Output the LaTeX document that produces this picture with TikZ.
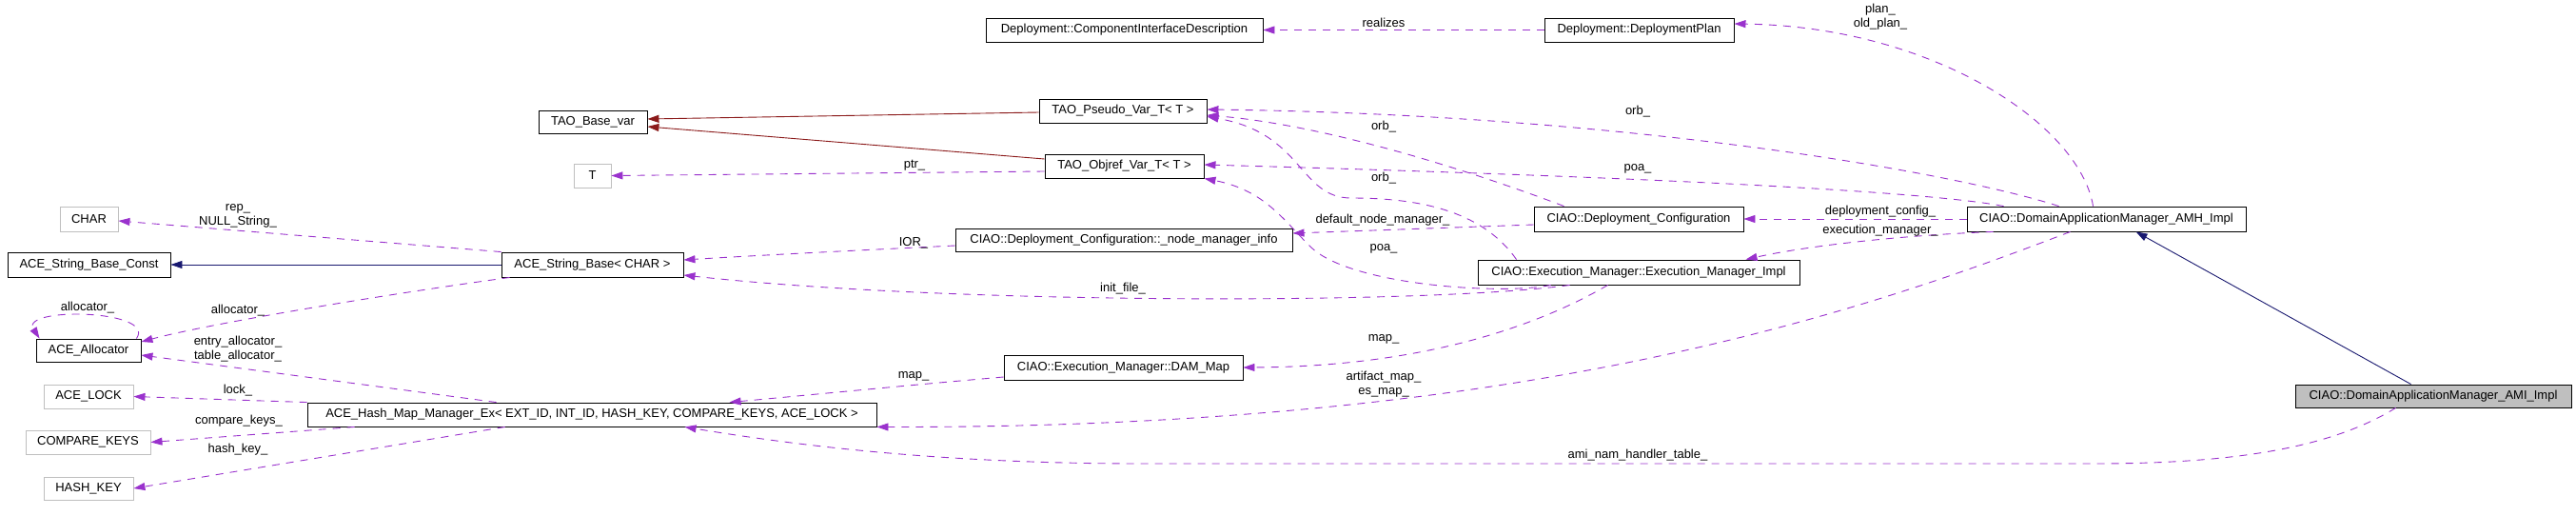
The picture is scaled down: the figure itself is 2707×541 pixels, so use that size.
\documentclass[tikz,border=0pt]{standalone}
\usepackage{fontspec}
\setmainfont{Liberation Sans}
\usetikzlibrary{arrows.meta,calc}
\definecolor{edgepurple}{RGB}{154,50,205}
\definecolor{inhnavy}{RGB}{25,25,112}
\definecolor{tmplred}{RGB}{139,26,26}
\definecolor{greyframe}{RGB}{191,191,191}
\begin{document}
\begin{tikzpicture}[x=1pt,y=-1pt,
  every node/.style={font=\fontsize{13}{15}\selectfont},
  cls/.style={draw=black,line width=0.9pt,inner sep=0pt,minimum height=25pt,anchor=center},
  ext/.style={cls,draw=greyframe},
  focus/.style={cls,fill=greyframe},
  uses/.style={draw=edgepurple,dash pattern=on 8pt off 7pt,line width=0.9pt,-{Triangle[length=12pt,width=8pt]}},
  inherit/.style={draw=inhnavy,line width=0.9pt,-{Triangle[length=12pt,width=8pt]}},
  tmpl/.style={draw=tmplred,line width=0.9pt,-{Triangle[length=12pt,width=8pt]}},
  lbl/.style={inner sep=0pt,align=center}]
\fill[white] (0,0) rectangle (2707,541);
\useasboundingbox (0,0) rectangle (2707,541);

% classes
\node[cls,minimum width=291pt] (cid) at (1181.5,31.5) {Deployment::ComponentInterfaceDescription};
\node[cls,minimum width=199pt] (dp) at (1722.5,31.5) {Deployment::DeploymentPlan};
\node[cls,minimum width=176pt] (pseudo) at (1180,116.5) {TAO\_Pseudo\_Var\_T< T >};
\node[cls,minimum width=114pt,minimum height=24pt] (basevar) at (623,128) {TAO\_Base\_var};
\node[cls,minimum width=167pt] (objref) at (1181.5,174.5) {TAO\_Objref\_Var\_T< T >};
\node[ext,minimum width=39pt] (tnode) at (622.5,184.5) {T};
\node[ext,minimum width=61pt,minimum height=26pt] (charnode) at (93.5,230) {CHAR};
\node[cls,minimum width=171pt,minimum height=26pt] (sbc) at (93.5,278) {ACE\_String\_Base\_Const};
\node[cls,minimum width=191pt,minimum height=26pt] (sb) at (622.5,278) {ACE\_String\_Base< CHAR >};
\node[cls,minimum width=354pt,minimum height=24pt] (nmi) at (1181,252) {CIAO::Deployment\_Configuration::\_node\_manager\_info};
\node[cls,minimum width=220pt,minimum height=26pt] (dc) at (1722,230) {CIAO::Deployment\_Configuration};
\node[cls,minimum width=293pt,minimum height=26pt] (amh) at (2213.5,230) {CIAO::DomainApplicationManager\_AMH\_Impl};
\node[cls,minimum width=338pt,minimum height=26pt] (emi) at (1722,286) {CIAO::Execution\_Manager::Execution\_Manager\_Impl};
\node[cls,minimum width=110pt,minimum height=24pt] (alloc) at (93,368) {ACE\_Allocator};
\node[cls,minimum width=251pt,minimum height=26pt] (dam) at (1180.5,386) {CIAO::Execution\_Manager::DAM\_Map};
\node[ext,minimum width=94pt] (lock) at (93,416.5) {ACE\_LOCK};
\node[cls,minimum width=598pt] (hm) at (622,435.5) {ACE\_Hash\_Map\_Manager\_Ex< EXT\_ID, INT\_ID, HASH\_KEY, COMPARE\_KEYS, ACE\_LOCK >};
\node[ext,minimum width=131pt] (ck) at (92.5,464.5) {COMPARE\_KEYS};
\node[ext,minimum width=94pt,minimum height=24pt] (hk) at (93,513) {HASH\_KEY};
\node[focus,minimum width=290pt,minimum height=24pt] (ami) at (2557,416) {CIAO::DomainApplicationManager\_AMI\_Impl};

% connectors
\draw[uses] (dp.west) -- (cid.east);
\node[lbl] (lrealizes) at (1454,24) {realizes};

\draw[uses] ([xshift=133pt]amh.north west) .. controls (2185,130) and (2030,28) .. ([yshift=6.5pt]dp.east);
\node[lbl] (lplan) at (1976,18) {plan\_\\old\_plan\_};

\draw[uses] ([xshift=97pt]amh.north west) .. controls (2050,180) and (1700,120) .. ([yshift=1.5pt]pseudo.east);
\node[lbl] (lorba) at (1721,117) {orb\_};

\draw[uses] ([xshift=39pt]amh.north west) .. controls (2020,200) and (1700,185) .. ([yshift=1.5pt]objref.east);
\node[lbl] (lpoaa) at (1721,177) {poa\_};

\draw[uses] (amh.west) -- (dc.east);
\node[lbl] (ldepcfg) at (1976,222) {deployment\_config\_};

\draw[uses] ([xshift=28pt]amh.south west) .. controls (2000,247) and (1900,258) .. ([xshift=282pt]emi.north west);
\node[lbl] (lexec) at (1976,242) {execution\_manager\_};

\draw[uses] ([xshift=109pt]amh.south west) .. controls (1950,330) and (1600,450) .. (hm.south east);
\node[lbl] (lart) at (1454,404) {artifact\_map\_\\es\_map\_};

\draw[uses] ([xshift=106pt]ami.south west) .. controls (2450,470) and (2350,487) .. (2200,487) -- (1200,487) .. controls (1000,487) and (850,470) .. ([xshift=397pt]hm.south west);
\node[lbl] (lami) at (1721,478) {ami\_nam\_handler\_table\_};

\draw[inherit] ([xshift=122pt]ami.north west) -- ([xshift=178pt]amh.south west);

\draw[uses] ([xshift=32pt]dc.north west) .. controls (1520,170) and (1380,130) .. ([yshift=-4.5pt]pseudo.east);
\node[lbl] (lorbb) at (1454,133) {orb\_};

\draw[uses] ([yshift=-6pt]dc.west) -- ([yshift=7pt]nmi.east);
\node[lbl] (ldnm) at (1453,231) {default\_node\_manager\_};

\draw[uses] ([xshift=41pt]emi.north west) .. controls (1560,225) and (1500,208) .. (1420,208) .. controls (1365,208) and (1370,140) .. ([yshift=-6pt]pseudo.east);
\node[lbl] (lorbc) at (1454,187) {orb\_};

\draw[uses] ([xshift=77pt]emi.south west) .. controls (1580,310) and (1420,300) .. (1378,260) .. controls (1350,233) and (1330,200) .. (objref.south east);
\node[lbl] (lpoab) at (1454,261) {poa\_};

\draw[uses] ([xshift=97pt]emi.south west) .. controls (1500,320) and (1000,320) .. ([yshift=-11pt]sb.east);
\node[lbl] (linit) at (1180,303) {init\_file\_};

\draw[uses] ([xshift=137pt]emi.south west) .. controls (1620,340) and (1500,385) .. (dam.east);
\node[lbl] (lmapa) at (1454,356) {map\_};

\draw[uses] ([yshift=-10pt]dam.west) .. controls (950,405) and (850,415) .. ([xshift=444pt]hm.north west);
\node[lbl] (lmapb) at (960,395) {map\_};

\draw[uses] ([yshift=-6pt]nmi.west) .. controls (900,263) and (800,268) .. ([yshift=5pt]sb.east);
\node[lbl] (lior) at (960,255) {IOR\_};

\draw[uses] ([yshift=-5.5pt]objref.west) -- (tnode.east);
\node[lbl] (lptr) at (961,174) {ptr\_};

\draw[tmpl] ([yshift=-1.5pt]pseudo.west) -- ([yshift=3pt]basevar.east);
\draw[tmpl] ([yshift=7.5pt]objref.west) -- ([yshift=-5pt]basevar.east);

\draw[uses] (sb.north west) -- ([yshift=-2pt]charnode.east);
\node[lbl] (lrep) at (250,227) {rep\_\\NULL\_String\_};

\draw[inherit] (sb.west) -- (sbc.east);

\draw[uses] ([xshift=9pt]sb.south west) .. controls (400,310) and (220,340) .. ([yshift=9pt]alloc.east);
\node[lbl] (lalloca) at (250,326) {allocator\_};

\draw[uses] ([xshift=-5pt]alloc.north east) .. controls (165,325) and (20,322) .. ([xshift=4pt]alloc.north west);
\node[lbl] (lallocb) at (92,323) {allocator\_};

\draw[uses] ([xshift=199pt]hm.north west) -- ([yshift=-5pt]alloc.east);
\node[lbl] (lentry) at (250,367) {entry\_allocator\_\\table\_allocator\_};

\draw[uses] (hm.north west) -- (lock.east);
\node[lbl] (llock) at (250,410) {lock\_};

\draw[uses] ([xshift=50pt]hm.south west) -- (ck.east);
\node[lbl] (lck) at (251,442) {compare\_keys\_};

\draw[uses] ([xshift=208pt]hm.south west) -- (hk.east);
\node[lbl] (lhk) at (250,472) {hash\_key\_};
\end{tikzpicture}
\end{document}
